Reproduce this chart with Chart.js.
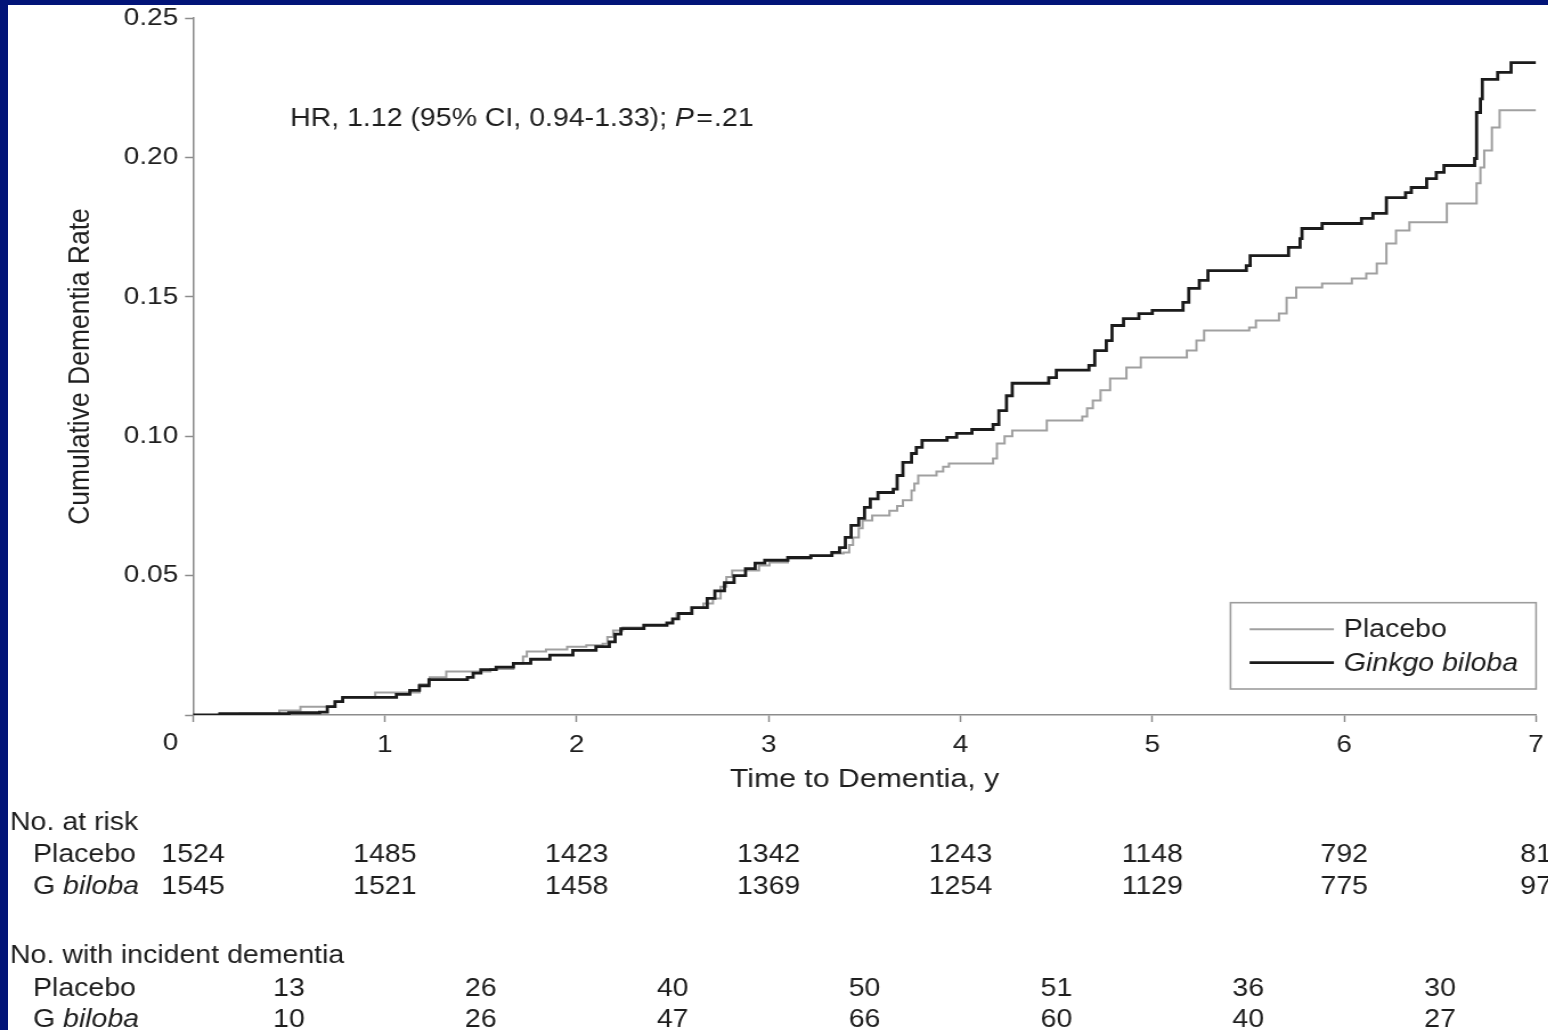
<!DOCTYPE html>
<html>
<head>
<meta charset="utf-8">
<title>Cumulative dementia rate</title>
<script src="https://cdn.jsdelivr.net/npm/chart.js@4.4.1/dist/chart.umd.min.js"></script>
<style>
  html, body { margin: 0; padding: 0; background: #021478; overflow: hidden; }
  #sheet { position: absolute; left: 8px; top: 5px; width: 1540px; height: 1025px; background: #fff; }
  /* the figure's type is set a little wide, so the whole canvas is widened */
  #km { position: absolute; left: 0; top: 0; transform: scaleX(1.14); transform-origin: 0 0; }
</style>
</head>
<body>
<div id="sheet"></div>
<canvas id="km" width="1358" height="1030" style="width:1358px;height:1030px"></canvas>
<script>
var FONT = "'Liberation Sans', Arial, Helvetica, sans-serif";
var INK = '#1e1e1e';
var AXIS = '#8c8c8c';

var years = [0, 1, 2, 3, 4, 5, 6, 7];
var rateTicks = [0, 0.05, 0.10, 0.15, 0.20, 0.25];
var seriesNames = ['Placebo', 'Ginkgo biloba'];

// Kaplan-Meier steps: time of each event (y) and cumulative rate after it
var placeboTime = [0, 0.245, 0.45, 0.56, 0.74, 0.78, 0.95, 1.18, 1.234, 1.32, 1.55, 1.67, 1.72, 1.74, 1.84, 1.95,
  2.05, 2.135, 2.16, 2.19, 2.24, 2.35, 2.47, 2.50, 2.52, 2.60, 2.66, 2.71, 2.75, 2.78, 2.81, 2.95,
  3.005, 3.10, 3.22, 3.33, 3.39, 3.42, 3.44, 3.47, 3.49, 3.54, 3.63, 3.67, 3.70, 3.745, 3.76, 3.78, 3.875, 3.91, 3.94,
  4.17, 4.19, 4.23, 4.27, 4.45, 4.635, 4.66, 4.69, 4.73, 4.78, 4.865, 4.94,
  5.18, 5.23, 5.27, 5.505, 5.54, 5.66, 5.70, 5.75, 5.885,
  6.04, 6.115, 6.17, 6.22, 6.27, 6.34, 6.535, 6.69, 6.71, 6.73, 6.77, 6.81, 7.0];
var placeboRate = [0, 0.0005, 0.0016, 0.0030, 0.0048, 0.0063, 0.0081, 0.0110, 0.0135, 0.0156, 0.0165, 0.0185, 0.0210, 0.0228, 0.0235, 0.0245,
  0.0250, 0.0256, 0.0280, 0.0303, 0.0314, 0.0322, 0.0330, 0.0345, 0.0364, 0.0385, 0.0400, 0.0418, 0.0460, 0.0495, 0.0518, 0.0536,
  0.0547, 0.0560, 0.0570, 0.0579, 0.0583, 0.0610, 0.0637, 0.0670, 0.0698, 0.0716, 0.0733, 0.0750, 0.0770, 0.0805, 0.0830, 0.0859, 0.0873, 0.0890, 0.0902,
  0.0920, 0.0974, 0.1000, 0.1020, 0.1056, 0.1071, 0.1100, 0.1128, 0.1165, 0.1207, 0.1246, 0.1282,
  0.1307, 0.1343, 0.1379, 0.1390, 0.1415, 0.1440, 0.1497, 0.1533, 0.1548,
  0.1566, 0.1584, 0.1619, 0.1691, 0.1738, 0.1767, 0.1835, 0.1907, 0.1964, 0.2025, 0.2107, 0.2169, 0.2169];

var ginkgoTime = [0, 0.14, 0.50, 0.66, 0.70, 0.74, 0.78, 1.06, 1.13, 1.18, 1.23, 1.43, 1.46, 1.50, 1.58, 1.67, 1.76, 1.86, 1.98,
  2.10, 2.17, 2.20, 2.23, 2.35, 2.47, 2.50, 2.53, 2.60, 2.68, 2.72, 2.77, 2.82, 2.88, 2.93, 2.98,
  3.10, 3.22, 3.33, 3.37, 3.40, 3.43, 3.47, 3.50, 3.53, 3.57, 3.65, 3.67, 3.70, 3.745, 3.77, 3.80, 3.93, 3.98,
  4.06, 4.17, 4.20, 4.24, 4.27, 4.46, 4.50, 4.67, 4.70, 4.76, 4.79, 4.85, 4.93,
  5.00, 5.16, 5.19, 5.245, 5.29, 5.49, 5.51, 5.71, 5.77, 5.78, 5.885,
  6.09, 6.15, 6.22, 6.32, 6.35, 6.43, 6.48, 6.52, 6.68, 6.69, 6.71, 6.72, 6.80, 6.87, 7.0];
var ginkgoRate = [0, 0.0005, 0.0008, 0.0010, 0.0030, 0.0048, 0.0063, 0.0074, 0.0088, 0.0105, 0.0127, 0.0135, 0.0150, 0.0163, 0.0172, 0.0185, 0.0200, 0.0215, 0.0232,
  0.0245, 0.0262, 0.0290, 0.0310, 0.0322, 0.0330, 0.0345, 0.0364, 0.0385, 0.0418, 0.0445, 0.0475, 0.0500, 0.0525, 0.0545, 0.0555,
  0.0565, 0.0572, 0.0583, 0.0600, 0.0637, 0.0680, 0.0705, 0.0745, 0.0775, 0.0798, 0.0810, 0.0859, 0.0906, 0.0938, 0.0960, 0.0985, 0.0996, 0.1010,
  0.1024, 0.1042, 0.1092, 0.1145, 0.1190, 0.1210, 0.1237, 0.1254, 0.1307, 0.1343, 0.1397, 0.1422, 0.1440,
  0.1451, 0.1480, 0.1530, 0.1559, 0.1594, 0.1612, 0.1648, 0.1677, 0.1709, 0.1745, 0.1763,
  0.1781, 0.1799, 0.1856, 0.1874, 0.1892, 0.1924, 0.1946, 0.1971, 0.1996, 0.2161, 0.2210, 0.2280, 0.2305, 0.2340, 0.2340];

// risk table under the plot
var atRiskPlacebo = [1524, 1485, 1423, 1342, 1243, 1148, 792, 81];
var atRiskGinkgo = [1545, 1521, 1458, 1369, 1254, 1129, 775, 97];
var incidentPlacebo = [13, 26, 40, 50, 51, 36, 30];
var incidentGinkgo = [10, 26, 47, 66, 60, 40, 27];

function pairs(t, v) {
  return t.map(function (x, i) { return { x: x, y: v[i] }; });
}

function font(size, italic) {
  return (italic ? 'italic ' : '') + size + 'px ' + FONT;
}

// "G" upright, "biloba" italic
function drawGroup(ctx, name, x, y) {
  if (name === 'Placebo') {
    ctx.font = font(25);
    ctx.fillText(name, x, y);
    return;
  }
  ctx.font = font(25);
  ctx.fillText('G ', x, y);
  var w = ctx.measureText('G ').width;
  ctx.font = font(25, true);
  ctx.fillText('biloba', x + w, y);
}

var extras = {
  id: 'extras',
  afterDraw: function (chart) {
    var ctx = chart.ctx, xs = chart.scales.x, area = chart.chartArea;
    ctx.save();
    ctx.fillStyle = INK;
    ctx.textBaseline = 'middle';

    // origin label sits left of its tick
    ctx.font = font(24.5);
    ctx.textAlign = 'center';
    ctx.fillText('0', xs.getPixelForValue(0) - 19.7, 743);

    // hazard ratio note
    ctx.textAlign = 'left';
    var hx = 254.4, hy = 119.5;
    var head = 'HR, 1.12 (95% CI, 0.94-1.33); ';
    ctx.font = font(25);
    ctx.fillText(head, hx, hy);
    hx += ctx.measureText(head).width;
    ctx.font = font(25, true);
    ctx.fillText('P', hx, hy);
    hx += ctx.measureText('P').width + 2;
    ctx.font = font(25);
    ctx.fillText('=', hx, hy);
    hx += ctx.measureText('=').width + 1;
    ctx.fillText('.21', hx, hy);

    // legend box
    var bw = 268, bx = area.right - bw, by = 602.7, bh = 86.3;
    ctx.strokeStyle = '#9d9d9d';
    ctx.lineWidth = 1.6;
    ctx.strokeRect(bx, by, bw, bh);
    seriesNames.forEach(function (name, i) {
      var ds = chart.data.datasets[i];
      var ly = by + 26.6 + i * 33.4;
      ctx.strokeStyle = ds.borderColor;
      ctx.lineWidth = ds.borderWidth;
      ctx.beginPath();
      ctx.moveTo(bx + 16.7, ly);
      ctx.lineTo(bx + 90.7, ly);
      ctx.stroke();
      ctx.font = font(25, i === 1);
      ctx.fillText(name, bx + 99.4, ly + 1);
    });

    // numbers at risk and incident cases
    var rows = [
      { y: 823, head: 'No. at risk' },
      { y: 855, group: 'Placebo', vals: atRiskPlacebo, off: 0 },
      { y: 887, group: 'G biloba', vals: atRiskGinkgo, off: 0 },
      { y: 956, head: 'No. with incident dementia' },
      { y: 989, group: 'Placebo', vals: incidentPlacebo, off: 0.5 },
      { y: 1020, group: 'G biloba', vals: incidentGinkgo, off: 0.5 }
    ];
    rows.forEach(function (r) {
      ctx.textAlign = 'left';
      if (r.head) {
        ctx.font = font(25);
        ctx.fillText(r.head, 8.8, r.y);
        return;
      }
      drawGroup(ctx, r.group, 28.9, r.y);
      ctx.font = font(25);
      ctx.textAlign = 'center';
      r.vals.forEach(function (v, i) {
        ctx.fillText(String(v), xs.getPixelForValue(years[i] + r.off), r.y);
      });
    });
    ctx.restore();
  }
};

new Chart(document.getElementById('km'), {
  type: 'line',
  plugins: [extras],
  data: {
    datasets: [
      {
        label: seriesNames[0],
        data: pairs(placeboTime, placeboRate),
        borderColor: '#a0a0a0',
        borderWidth: 2,
        stepped: true,
        pointRadius: 0,
        order: 1
      },
      {
        label: seriesNames[1],
        data: pairs(ginkgoTime, ginkgoRate),
        borderColor: '#1b1b1b',
        borderWidth: 2.8,
        stepped: true,
        pointRadius: 0,
        order: 0
      }
    ]
  },
  options: {
    responsive: false,
    devicePixelRatio: 1,
    animation: false,
    events: [],
    layout: { padding: { left: 0, top: 18, right: 10.6, bottom: 230 } },
    plugins: {
      legend: { display: false },
      tooltip: { enabled: false },
      title: { display: false }
    },
    scales: {
      x: {
        type: 'linear',
        min: 0,
        max: 7,
        afterBuildTicks: function (s) {
          s.ticks = years.map(function (v) { return { value: v }; });
        },
        afterFit: function (s) {
          s.height = 85;
          // the end labels may hang past the plot edge
          s.paddingLeft = 0;
          s.paddingRight = 0;
        },
        border: { color: AXIS, width: 1.5 },
        grid: { drawOnChartArea: false, drawTicks: true, tickLength: 7, tickColor: AXIS, tickWidth: 1.5 },
        ticks: {
          autoSkip: false,
          maxRotation: 0,
          padding: 9,
          color: INK,
          font: { family: FONT, size: 24.5 },
          callback: function (v) { return v === 0 ? '' : String(v); }
        },
        title: {
          display: true,
          text: 'Time to Dementia, y',
          color: INK,
          font: { family: FONT, size: 26.5 },
          padding: { top: 0, bottom: 4.8 }
        }
      },
      y: {
        type: 'linear',
        min: 0,
        max: 0.25,
        afterBuildTicks: function (s) {
          s.ticks = rateTicks.map(function (v) { return { value: v }; });
        },
        afterFit: function (s) {
          s.width = 169.3;
          s.paddingTop = 0;
          s.paddingBottom = 0;
        },
        border: { color: AXIS, width: 1.5 },
        grid: { drawOnChartArea: false, drawTicks: true, tickLength: 7, tickColor: AXIS, tickWidth: 1.5 },
        ticks: {
          autoSkip: false,
          padding: 6,
          color: INK,
          font: { family: FONT, size: 24.5 },
          callback: function (v) { return v === 0 ? '' : v.toFixed(2); }
        },
        title: {
          display: true,
          text: 'Cumulative Dementia Rate',
          color: INK,
          font: { family: FONT, size: 26.5 },
          padding: { top: 54.3, bottom: 0 }
        }
      }
    }
  }
});
</script>
</body>
</html>
